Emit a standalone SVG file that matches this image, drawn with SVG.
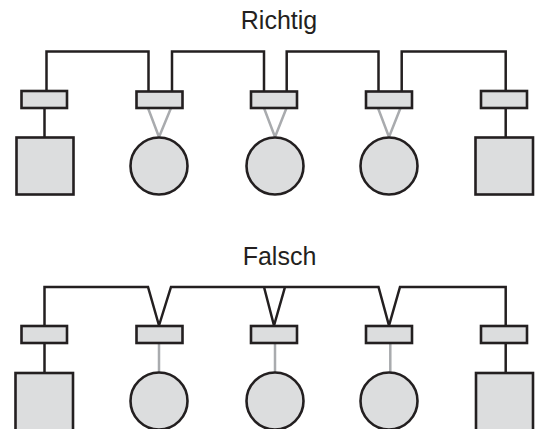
<svg xmlns="http://www.w3.org/2000/svg" width="535" height="429" viewBox="0 0 535 429">
<style>
.n{fill:#dcddde;stroke:#231f20;stroke-width:2.6}
.k{fill:none;stroke:#231f20;stroke-width:2.5;stroke-linejoin:miter}
.g{fill:none;stroke:#a9abae;stroke-width:2.5}
text{font-family:"Liberation Sans",Arial,sans-serif;font-size:25px;fill:#231f20;text-anchor:middle}
</style>
<rect width="535" height="429" fill="#fff"/>
<text id="title-richtig" x="279" y="28.5">Richtig</text>
<text id="title-falsch" x="279.5" y="264.5">Falsch</text>
<g id="connectors">
<path class="k" d="M46.5 91V51.5H148.5V91M172 91V51.5H264V91M286.7 91V51.5H378.5V91M401.7 91V51.5H505.7V91"/>
<path class="k" d="M44.5 108V137.5M505.7 108V137.5"/>
<path class="g" d="M148 108L159 137L171 108M264 108L275 137L286.5 108M378 108L389 137L400.5 108"/>
<path class="k" d="M44.5 326V287H148L159 325.5L171 287H285L274 325.5L264 287M285 287H378.5L389 325.5L400 287H505.7V326"/>
<path class="k" d="M44.5 343V373M505.7 343V373"/>
<path class="g" d="M159 343V372M275 343V372M390.3 343V372"/>
</g>
<g id="top-nodes">
<rect id="t-box1" class="n" x="21.5" y="91" width="45.5" height="17"/>
<rect id="t-box2" class="n" x="136.5" y="91.5" width="46" height="16.5"/>
<rect id="t-box3" class="n" x="251" y="91.5" width="46" height="16.5"/>
<rect id="t-box4" class="n" x="366" y="91.5" width="46" height="16.5"/>
<rect id="t-box5" class="n" x="481" y="91" width="46" height="17"/>
<rect id="t-sq1" class="n" x="16.5" y="137.5" width="57" height="57"/>
<circle id="t-c1" class="n" cx="159" cy="166" r="28.5"/>
<circle id="t-c2" class="n" cx="275" cy="166" r="28.5"/>
<circle id="t-c3" class="n" cx="389" cy="166" r="28.5"/>
<rect id="t-sq2" class="n" x="475.5" y="137.5" width="57.5" height="57"/>
</g>
<g id="bottom-nodes">
<rect id="b-box1" class="n" x="21.5" y="326" width="45.5" height="17"/>
<rect id="b-box2" class="n" x="136.5" y="326" width="46" height="17"/>
<rect id="b-box3" class="n" x="251" y="326" width="46" height="17"/>
<rect id="b-box4" class="n" x="366" y="326" width="46" height="17"/>
<rect id="b-box5" class="n" x="481" y="326" width="46" height="17"/>
<rect id="b-sq1" class="n" x="15.5" y="373" width="57.5" height="60"/>
<circle id="b-c1" class="n" cx="159" cy="401" r="28.5"/>
<circle id="b-c2" class="n" cx="275" cy="401" r="28.5"/>
<circle id="b-c3" class="n" cx="389" cy="401" r="28.5"/>
<rect id="b-sq2" class="n" x="476" y="373" width="57" height="60"/>
</g>
</svg>
